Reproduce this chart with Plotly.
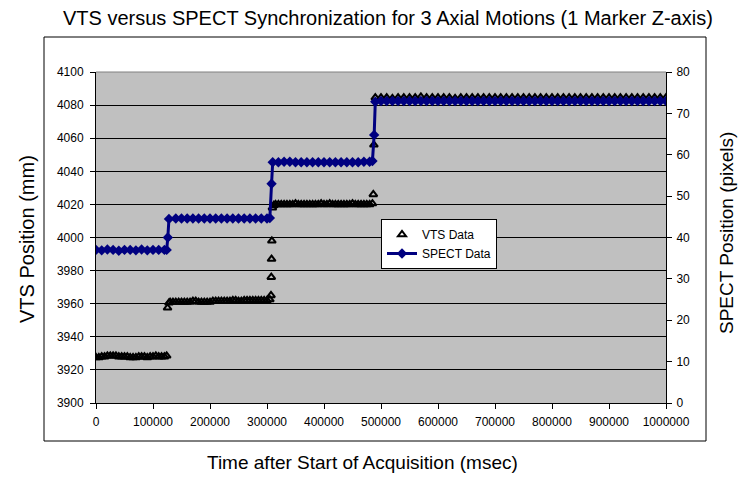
import plotly.graph_objects as go

# ---------------- data ----------------
vts_time = [
    0, 5000, 10000, 15000, 20000, 25000, 30000, 35000, 40000, 45000, 50000, 55000, 60000,
    65000, 70000, 75000, 80000, 85000, 90000, 95000, 100000, 105000, 110000, 115000, 120000, 124000,
    125500,
    128000, 130000, 135000, 140000, 145000, 150000, 155000, 160000, 165000, 170000, 175000, 180000,
    185000, 190000, 195000, 200000, 205000, 210000, 215000, 220000, 225000, 230000, 235000, 240000,
    245000, 250000, 255000, 260000, 265000, 270000, 275000, 280000, 285000, 290000, 295000, 300000, 305000,
    307000, 307500, 308000, 308500, 309500,
    312000, 315000, 320000, 325000, 330000, 335000, 340000, 345000, 350000, 355000, 360000, 365000,
    370000, 375000, 380000, 385000, 390000, 395000, 400000, 405000, 410000, 415000, 420000, 425000,
    430000, 435000, 440000, 445000, 450000, 455000, 460000, 465000, 470000, 475000, 480000, 485000,
    486500, 487500,
    490000, 500000, 510000, 520000, 530000, 540000, 550000, 560000, 570000, 580000, 590000, 600000,
    610000, 620000, 630000, 640000, 650000, 660000, 670000, 680000, 690000, 700000, 710000, 720000,
    730000, 740000, 750000, 760000, 770000, 780000, 790000, 800000, 810000, 820000, 830000, 840000,
    850000, 860000, 870000, 880000, 890000, 900000, 910000, 920000, 930000, 940000, 950000, 960000,
    970000, 980000, 990000, 1000000,
]
vts_pos = [
    3927.5, 3927.5, 3928, 3928, 3928.5, 3928.5, 3928.5, 3928.5, 3928, 3928, 3928, 3928, 3927.5,
    3927.5, 3927.5, 3928, 3928, 3928, 3927.5, 3928, 3928, 3928.5, 3928, 3928, 3928, 3928.5,
    3957.5,
    3960.5, 3961, 3961, 3961, 3961, 3961, 3961, 3961, 3961, 3961.5, 3961.5, 3961,
    3961, 3961, 3961, 3961, 3961.5, 3961.5, 3961.5, 3961.5, 3961.5, 3961.5, 3961.5, 3962,
    3962, 3961.5, 3961.5, 3962, 3962, 3962, 3962, 3962, 3962, 3962, 3962, 3962, 3962.5,
    3965, 3976, 3987, 3998, 4018,
    4019.5, 4020, 4020, 4020, 4020, 4020, 4020, 4020, 4020.5, 4020, 4020, 4020,
    4020, 4020, 4020, 4020, 4020, 4020.5, 4020, 4020, 4020.5, 4020, 4020, 4020,
    4020, 4020, 4020, 4020, 4020.5, 4020, 4020, 4020, 4020, 4020, 4020, 4020.5,
    4026, 4056,
    4084.5, 4084.5, 4084.5, 4084, 4084.5, 4084.5, 4084.5, 4084.5, 4085, 4084.5, 4084.5, 4084.5,
    4084.5, 4084.5, 4084, 4084.5, 4084.5, 4084.5, 4084.5, 4084.5, 4084.5, 4084.5, 4084.5, 4084.5,
    4084.5, 4084.5, 4084.5, 4084.5, 4084.5, 4084.5, 4084.5, 4084.5, 4084.5, 4084.5, 4084.5, 4084.5,
    4084.5, 4084.5, 4084.5, 4084.5, 4084.5, 4084.5, 4084.5, 4084.5, 4084.5, 4084.5, 4084.5, 4084.5,
    4084.5, 4084.5, 4084.5, 4084.5,
]

spect_time = [
    0, 10000, 20000, 30000, 40000, 50000, 60000, 70000, 80000, 90000, 100000, 110000, 120000, 124000,
    126000,
    128000, 140000, 150000, 160000, 170000, 180000, 190000, 200000, 210000, 220000, 230000, 240000,
    250000, 260000, 270000, 280000, 290000, 300000, 305000,
    308000,
    310000, 320000, 330000, 340000, 350000, 360000, 370000, 380000, 390000, 400000, 410000, 420000,
    430000, 440000, 450000, 460000, 470000, 480000, 485000,
    488000,
    490000, 500000, 510000, 520000, 530000, 540000, 550000, 560000, 570000, 580000, 590000, 600000,
    610000, 620000, 630000, 640000, 650000, 660000, 670000, 680000, 690000, 700000, 710000, 720000,
    730000, 740000, 750000, 760000, 770000, 780000, 790000, 800000, 810000, 820000, 830000, 840000,
    850000, 860000, 870000, 880000, 890000, 900000, 910000, 920000, 930000, 940000, 950000, 960000,
    970000, 980000, 990000, 1000000,
]
spect_pos = [
    37.0, 36.9, 37.1, 37.0, 36.8, 37.0, 37.0, 36.9, 37.1, 36.9, 37.0, 37.0, 37.0, 37.0,
    40.0,
    44.5, 44.6, 44.6, 44.6, 44.6, 44.6, 44.6, 44.6, 44.6, 44.6, 44.6, 44.6,
    44.6, 44.6, 44.6, 44.6, 44.6, 44.6, 44.7,
    53.0,
    58.2, 58.2, 58.3, 58.3, 58.2, 58.2, 58.2, 58.2, 58.2, 58.2, 58.2, 58.2,
    58.2, 58.2, 58.2, 58.2, 58.3, 58.3, 58.5,
    64.8,
    72.8, 73.0, 73.0, 73.0, 73.0, 73.0, 73.0, 73.0, 73.0, 73.0, 73.0, 73.0,
    73.0, 73.0, 73.0, 73.0, 73.0, 73.0, 73.0, 73.0, 73.0, 73.0, 73.0, 73.0,
    73.0, 73.0, 73.0, 73.0, 73.0, 73.0, 73.0, 73.0, 73.0, 73.0, 73.0, 73.0,
    73.0, 73.0, 73.0, 73.0, 73.0, 73.0, 73.0, 73.0, 73.0, 73.0, 73.0, 73.0,
    73.0, 73.0, 73.0, 73.0,
]

x_ticks = [0, 100000, 200000, 300000, 400000, 500000, 600000, 700000, 800000, 900000, 1000000]
left_ticks = [3900, 3920, 3940, 3960, 3980, 4000, 4020, 4040, 4060, 4080, 4100]
right_ticks = [0, 10, 20, 30, 40, 50, 60, 70, 80]

assert len(vts_time) == len(vts_pos), (len(vts_time), len(vts_pos))
assert len(spect_time) == len(spect_pos), (len(spect_time), len(spect_pos))

FONT = "Arial, 'Liberation Sans', sans-serif"

fig = go.Figure()
fig.add_trace(go.Scatter(
    x=vts_time, y=vts_pos, mode="markers", name="VTS Data", yaxis="y",
    marker=dict(symbol="triangle-up-open", size=7, color="black",
                line=dict(width=2, color="black")),
))
fig.add_trace(go.Scatter(
    x=spect_time, y=spect_pos, mode="lines+markers", name="SPECT Data", yaxis="y2",
    line=dict(color="#000080", width=3),
    marker=dict(symbol="diamond", size=8, color="#000080"),
))

axis_common = dict(
    ticks="outside", ticklen=5, tickcolor="black", tickwidth=1,
    showline=True, linecolor="black", linewidth=1, zeroline=False, automargin=False,
    tickfont=dict(family=FONT, size=12, color="black"),
)

# the page body has an 8px margin, so the figure is 742x472 and sits at (8, 8)
fig.update_layout(
    width=742, height=472,
    margin=dict(l=88, r=84, t=64, b=77, autoexpand=False),
    paper_bgcolor="white", plot_bgcolor="#C0C0C0",
    font=dict(family=FONT, color="black"),
    showlegend=True,
    legend=dict(
        x=(381 - 96) / 570, xanchor="left", y=(403 - 219) / 331, yanchor="top",
        bgcolor="white", bordercolor="black", borderwidth=1,
        font=dict(family=FONT, size=12, color="black"),
        tracegroupgap=0, itemwidth=30,
    ),
    xaxis=dict(
        range=[0, 1000000], tickvals=x_ticks, ticktext=[str(v) for v in x_ticks],
        showgrid=False, ticklabelstandoff=3, **axis_common,
    ),
    yaxis=dict(
        range=[3900, 4100], tickvals=left_ticks, ticktext=[str(v) for v in left_ticks],
        showgrid=True, gridcolor="black", gridwidth=1, ticklabelstandoff=4, **axis_common,
    ),
    yaxis2=dict(
        range=[0, 80], tickvals=right_ticks, ticktext=[str(v) for v in right_ticks],
        overlaying="y", side="right", showgrid=False, ticklabelstandoff=2, **axis_common,
    ),
)

# chart title and axis titles as text (positions in page pixels -> paper coords)
fig.add_annotation(text="VTS versus SPECT Synchronization for 3 Axial Motions (1 Marker Z-axis)",
                   xref="paper", yref="paper", x=(388 - 96) / 570, y=(403 - 18) / 331,
                   showarrow=False, font=dict(family=FONT, size=20, color="black"),
                   xanchor="center", yanchor="middle")
fig.add_annotation(text="Time after Start of Acquisition (msec)",
                   xref="paper", yref="paper", x=(362 - 96) / 570, y=(403 - 462) / 331,
                   showarrow=False, font=dict(family=FONT, size=19, color="black"),
                   xanchor="center", yanchor="middle")
fig.add_annotation(text="VTS Position (mm)", textangle=-90,
                   xref="paper", yref="paper", x=(27 - 96) / 570, y=(403 - 239) / 331,
                   showarrow=False, font=dict(family=FONT, size=20, color="black"),
                   xanchor="center", yanchor="middle")
fig.add_annotation(text="SPECT Position (pixels)", textangle=-90,
                   xref="paper", yref="paper", x=(727 - 96) / 570, y=(403 - 233) / 331,
                   showarrow=False, font=dict(family=FONT, size=19, color="black"),
                   xanchor="center", yanchor="middle")

# outer chart-area border and grey top edge of the plot area
fig.add_shape(type="rect", xref="paper", yref="paper",
              x0=(44 - 96) / 570, x1=(706 - 96) / 570,
              y0=(403 - 441) / 331, y1=(403 - 37) / 331,
              line=dict(color="black", width=1), fillcolor="rgba(0,0,0,0)", layer="above")
fig.add_shape(type="line", xref="paper", yref="paper", x0=0, x1=1, y0=1, y1=1,
              line=dict(color="#808080", width=1), layer="above")

fig.write_html("out.html")
